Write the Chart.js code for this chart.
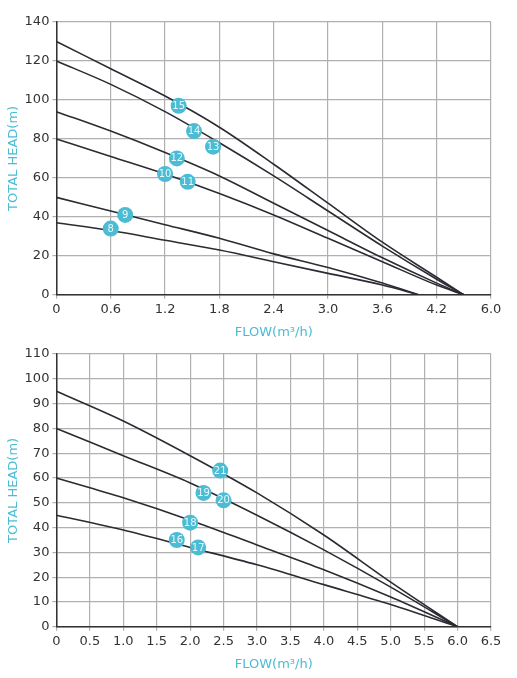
<!DOCTYPE html>
<html><head><meta charset="utf-8">
<script src="https://cdn.jsdelivr.net/npm/chart.js@4"></script>
<style>body{margin:0;background:#fff}#a{position:absolute;left:0;top:0}#b{position:absolute;left:0;top:338px}</style>
</head><body>
<div id="a" style="width:517px;height:346px"><canvas id="c1"></canvas></div>
<div id="b" style="width:517px;height:340px"><canvas id="c2"></canvas></div>
<script>
// Top chart
const topCurve15 = [[0,130],[0.6,116],[1.2,102],[1.8,86],[2.4,67],[3.0,47],[3.6,27],[4.2,9],[4.5,0]];
const topCurve14 = [[0,120],[0.6,108],[1.2,94],[1.8,78],[2.4,61],[3.0,43],[3.6,25],[4.2,8],[4.5,0]];
const topCurve12 = [[0,94],[0.6,84],[1.2,73],[1.8,61],[2.4,47],[3.0,33],[3.6,19],[4.2,6],[4.5,0]];
const topCurve10 = [[0,80],[0.6,71],[1.2,62],[1.8,52],[2.4,41],[3.0,29],[3.6,17],[4.2,5],[4.5,0]];
const topCurve9 = [[0,50],[0.6,43],[1.2,36],[1.8,29],[2.4,21],[3.0,14],[3.6,6],[4.0,0]];
const topCurve8 = [[0,37],[0.6,33],[1.2,28],[1.8,23],[2.4,17],[3.0,11],[3.6,5],[4.0,0]];
const topMarkers = [["15",1.35,97],["14",1.52,84],["13",1.73,76],["12",1.33,70],["10",1.2,62],["11",1.45,58],["9",0.76,41],["8",0.6,34]];
const topXTickLabels = ["0","0.6","1.2","1.8","2.4","3.0","3.6","4.2","6.0"];
// Bottom chart
const botCurve21 = [[0,95],[1,83],[2,69],[3,54],[4,37],[5,18],[6,0]];
const botCurve19 = [[0,80],[1,69],[2,58],[3,45],[4,31],[5,16],[6,0]];
const botCurve18 = [[0,60],[1,52],[2,43],[3,33],[4,23],[5,12],[6,0]];
const botCurve16 = [[0,45],[1,39],[2,32],[3,25],[4,17],[5,9],[6,0]];
const botMarkers = [["21",2.45,63],["19",2.2,54],["20",2.5,51],["18",2.0,42],["16",1.8,35],["17",2.12,32]];

const CY='#4bbcd3';
const pts=a=>a.map(p=>({x:p[0],y:p[1]}));
const markerPlugin={id:'mk',afterDatasetsDraw(ch){
  const ctx=ch.ctx,xs=ch.scales.x,ys=ch.scales.y;
  ch.options.plugins.mk.list.forEach(m=>{
    const x=xs.getPixelForValue(m[1]),y=ys.getPixelForValue(m[2]);
    ctx.save();ctx.beginPath();ctx.arc(x,y,8,0,Math.PI*2);ctx.fillStyle=CY;ctx.fill();
    ctx.fillStyle='#e8f8fb';ctx.font='10px "DejaVu Sans"';ctx.textAlign='center';ctx.textBaseline='middle';
    ctx.fillText(m[0],x,y+0.5);ctx.restore();});
}};
function make(id,curves,markers,xmax,xstep,ymax,ystep,xlab,padTop){
  new Chart(document.getElementById(id),{type:'scatter',
    data:{datasets:curves.map(c=>({data:pts(c),showLine:true,borderColor:'#2b2b33',borderWidth:1.6,pointRadius:0,cubicInterpolationMode:'monotone',fill:false}))},
    options:{responsive:true,maintainAspectRatio:false,animation:false,
      layout:{padding:{top:padTop,right:26,left:2,bottom:2}},
      plugins:{legend:{display:false},tooltip:{enabled:false},mk:{list:markers}},
      scales:{
        x:{type:'linear',min:0,max:xmax,ticks:{stepSize:xstep,color:'#333',font:{size:13,family:'DejaVu Sans'},callback:xlab},
           grid:{color:'#b0b0b0',lineWidth:1.2,tickLength:4},border:{color:'#333',width:1.5},
           title:{display:true,text:'FLOW(m³/h)',color:CY,font:{size:13,family:'DejaVu Sans'},padding:{top:4}}},
        y:{min:0,max:ymax,ticks:{stepSize:ystep,color:'#333',font:{size:13,family:'DejaVu Sans'}},
           grid:{color:'#b0b0b0',lineWidth:1.2,tickLength:4},border:{color:'#333',width:1.5},
           title:{display:true,text:'TOTAL HEAD(m)',color:CY,font:{size:13,family:'DejaVu Sans'},padding:{bottom:0}}}}},
    plugins:[markerPlugin]});
}
make('c1',[topCurve15,topCurve14,topCurve12,topCurve10,topCurve9,topCurve8],topMarkers,4.8,0.6,140,20,
  (v,i)=>topXTickLabels[i],22);
make('c2',[botCurve21,botCurve19,botCurve18,botCurve16],botMarkers,6.5,0.5,110,10,
  v=>v===0?'0':v.toFixed(1),16);
</script></body></html>
